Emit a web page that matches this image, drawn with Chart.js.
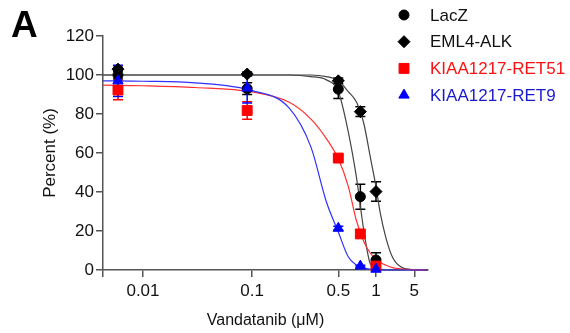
<!DOCTYPE html>
<html><head><meta charset="utf-8">
<script src="https://cdn.jsdelivr.net/npm/chart.js@4/dist/chart.umd.min.js"></script>
<style>html,body{margin:0;padding:0;background:#fff}</style>
</head><body>
<canvas id="c" width="570" height="333"></canvas>
<script>
// ---- data ----
const doses = [0.0059, 0.09, 0.5, 0.75, 1];               // µM
const lacZ = [100, 93, 92.7, 37.6, 5.1];
const lacZErr = [2, 3, 4.8, 6.4, 3.8];
const eml4Alk = [103, 100.5, 97, 81.2, 40.2];
const eml4AlkErr = [1, 1, 1.5, 2.5, 5];
const ret51 = [92.3, 81.8, 57.4, 18.5, 2];
const ret51Err = [5, 4.5, 1, 1.5, 1];
const ret9 = [97, 93.3, 21.4, 2, 0.4];
const ret9Err = [8, 7.7, 1, 0.5, 0.5];

// fitted curves
const curveX = [0.0043, 0.01, 0.03, 0.1, 0.2, 0.3, 0.4, 0.5, 0.6, 0.7, 0.8, 0.9, 1, 1.2, 1.5, 2, 3, 5, 9];
const curveLacZ = [100, 100, 100, 100, 100, 99.2, 97.5, 91.5, 71, 47, 20, 3.2, 0.8, 0.2, 0, 0, 0, 0, 0];
const curveEml4Alk = [100, 100, 100, 100, 100, 100, 99.2, 97, 91.5, 86, 75, 58, 42.6, 29, 17, 6.5, 1.2, 0.2, 0];
const curveRet51 = [94.8, 94.5, 93.6, 91.3, 86, 77.4, 67.4, 57, 43, 25, 14.5, 8.7, 5.3, 3.8, 2.5, 1.2, 0.5, 0.1, 0];
const curveRet9 = [97, 96.8, 96, 92, 83, 63, 35, 19.5, 6.8, 2.5, 1, 0.4, 0.2, 0, 0, 0, 0, 0, 0];

const seriesNames = ['LacZ', 'EML4-ALK', 'KIAA1217-RET51', 'KIAA1217-RET9'];
const xTickValues = [0.0043, 0.01, 0.1, 0.5, 1, 5];
const xTickLabels = ['', '0.01', '0.1', '0.5', '1', '5'];

// ---- axis: log segments with the spacing used in the figure ----
const xAxisBreaks = {
  values: [0.0043, 0.01, 0.1, 0.5, 1, 5, 9],
  fractions: [0, 0.123, 0.459, 0.724, 0.840, 0.958, 1]
};

class SegmentedLogScale extends Chart.LinearScale {
  buildTicks() { return xTickValues.map(v => ({ value: v })); }
  _frac(v) {
    const L = xAxisBreaks.values.map(Math.log10), F = xAxisBreaks.fractions, lv = Math.log10(v);
    let i = 1;
    while (i < L.length - 1 && lv > L[i]) i++;
    return F[i - 1] + (lv - L[i - 1]) / (L[i] - L[i - 1]) * (F[i] - F[i - 1]);
  }
  getPixelForValue(v) {
    if (v === null || v === undefined || !(v > 0)) return NaN;
    return this.getPixelForDecimal(this._frac(v));
  }
  getValueForPixel(p) {
    const f = this.getDecimalForPixel(p);
    const L = xAxisBreaks.values.map(Math.log10), F = xAxisBreaks.fractions;
    let i = 1;
    while (i < F.length - 1 && f > F[i]) i++;
    return Math.pow(10, L[i - 1] + (f - F[i - 1]) / (F[i] - F[i - 1]) * (L[i] - L[i - 1]));
  }
}
SegmentedLogScale.id = 'segmentedlog';
SegmentedLogScale.defaults = {};
Chart.register(SegmentedLogScale);

const pts = (xs, ys) => xs.map((x, i) => ({ x, y: ys[i] }));

const BLACK = '#000000', RED = '#ff0000', BLUE = '#0000ff';
const markerSets = [
  { label: seriesNames[0], data: pts(doses, lacZ), errors: lacZErr, color: BLACK, style: 'circle', r: 5, order: 3, text: '#111' },
  { label: seriesNames[1], data: pts(doses, eml4Alk), errors: eml4AlkErr, color: BLACK, style: 'rectRot', r: 6, order: 2, text: '#111' },
  { label: seriesNames[2], data: pts(doses, ret51), errors: ret51Err, color: RED, style: 'rect', r: 7, order: 1, text: '#ff1010' },
  { label: seriesNames[3], data: pts(doses, ret9), errors: ret9Err, color: BLUE, style: 'triangle', r: 6, order: 0, text: '#1a1acc' }
];
const curveSets = [
  { data: pts(curveX, curveLacZ), color: '#444' },
  { data: pts(curveX, curveEml4Alk), color: '#444' },
  { data: pts(curveX, curveRet51), color: '#ff3030' },
  { data: pts(curveX, curveRet9), color: '#3030ff' }
];

const datasets = [];
markerSets.forEach(m => datasets.push({
  label: m.label, data: m.data, errors: m.errors, showLine: false,
  pointStyle: m.style, pointRadius: m.r, pointHoverRadius: m.r,
  backgroundColor: m.color, borderColor: m.color, pointBorderWidth: 1,
  order: m.order, clip: false, legendText: m.text
}));
curveSets.forEach((c, i) => datasets.push({
  label: '', data: c.data, borderColor: c.color, borderWidth: 1.2, pointRadius: 0,
  cubicInterpolationMode: 'monotone', fill: false, order: 10 + (3 - i), clip: false
}));

const errorBars = {
  id: 'errorBars',
  beforeDatasetsDraw(chart) {
    const { ctx, scales: { x, y } } = chart;
    chart.data.datasets.forEach(ds => {
      if (!ds.errors) return;
      ctx.save();
      ctx.strokeStyle = ds.borderColor;
      ctx.lineWidth = 1.5;
      ds.data.forEach((p, j) => {
        const e = ds.errors[j];
        const px = x.getPixelForValue(p.x);
        const t = y.getPixelForValue(p.y + e), b = y.getPixelForValue(p.y - e);
        ctx.beginPath();
        ctx.moveTo(px, t); ctx.lineTo(px, b);
        ctx.moveTo(px - 5, t); ctx.lineTo(px + 5, t);
        ctx.moveTo(px - 5, b); ctx.lineTo(px + 5, b);
        ctx.stroke();
      });
      ctx.restore();
    });
  }
};

const sideLegend = {
  id: 'sideLegend',
  afterDraw(chart) {
    const ctx = chart.ctx;
    const mx = 404, tx = 430, y0 = 15, dy = 26.7;
    ctx.save();
    chart.data.datasets.filter(d => d.errors).forEach((d, i) => {
      const yy = y0 + i * dy;
      ctx.fillStyle = d.backgroundColor; ctx.strokeStyle = d.borderColor; ctx.lineWidth = 1;
      Chart.helpers.drawPoint(ctx, { pointStyle: d.pointStyle, radius: d.pointRadius, rotation: 0, borderWidth: 1 }, mx, yy);
      ctx.fillStyle = d.legendText;
      ctx.font = '17px "Liberation Sans", Arial, sans-serif';
      ctx.textBaseline = 'middle'; ctx.textAlign = 'left';
      ctx.fillText(d.label, tx, yy + 1);
    });
    ctx.fillStyle = '#000';
    ctx.font = 'bold 37px "Liberation Sans", Arial, sans-serif';
    ctx.textBaseline = 'alphabetic'; ctx.textAlign = 'left';
    ctx.fillText('A', 11, 37);
    ctx.restore();
  }
};

const tickFont = { family: '"Liberation Sans", Arial, sans-serif', size: 17 };
new Chart(document.getElementById('c'), {
  type: 'line',
  data: { datasets },
  options: {
    responsive: false, animation: false, devicePixelRatio: 1,
    layout: { padding: { top: 36, right: 142, bottom: 0, left: 0 } },
    plugins: { legend: { display: false }, tooltip: { enabled: false } },
    scales: {
      x: {
        type: 'segmentedlog', min: 0.0043, max: 9,
        grid: { display: true, drawOnChartArea: false, drawTicks: true, tickLength: 7, color: '#555', lineWidth: 1.5 },
        border: { display: true, color: '#555', width: 1.5 },
        ticks: { autoSkip: false, maxRotation: 0, padding: 4, color: '#111', font: tickFont,
          callback: (v, i) => xTickLabels[i] },
        title: { display: true, text: 'Vandatanib (μM)', color: '#111',
          font: { family: '"Liberation Sans", Arial, sans-serif', size: 16, lineHeight: 1.2 }, padding: { top: 0, bottom: 3 } },
        afterFit: s => { s.height = 63; }
      },
      y: {
        min: 0, max: 120,
        grid: { display: true, drawOnChartArea: false, drawTicks: true, tickLength: 7, color: '#555', lineWidth: 1.5 },
        border: { display: true, color: '#555', width: 1.5 },
        ticks: { stepSize: 20, padding: 2, color: '#111', font: tickFont },
        title: { display: true, text: 'Percent (%)', color: '#111',
          font: { family: '"Liberation Sans", Arial, sans-serif', size: 17, lineHeight: 1.2 }, padding: { top: 40, bottom: 0 } },
        afterFit: s => { s.width = 103; }
      }
    }
  },
  plugins: [errorBars, sideLegend]
});
</script>
</body></html>
